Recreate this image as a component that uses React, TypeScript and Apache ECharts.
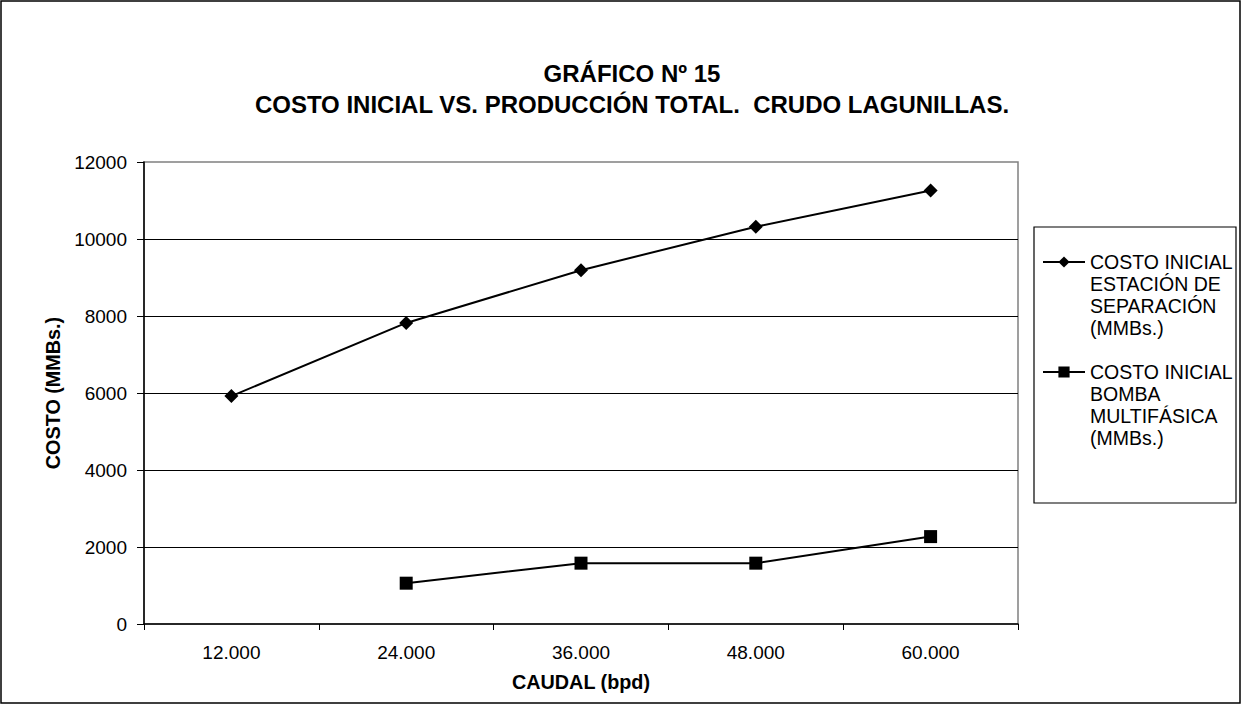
import React, { useEffect, useRef } from "react";
import * as echarts from "echarts";

const categories = ["12.000", "24.000", "36.000", "48.000", "60.000"];
const estacionValues: (number | null)[] = [5920, 7820, 9190, 10320, 11260];
const bombaValues: (number | null)[] = [null, 1060, 1580, 1580, 2270];
const seriesNames = [
  "COSTO INICIAL\nESTACIÓN DE\nSEPARACIÓN\n(MMBs.)",
  "COSTO INICIAL\nBOMBA\nMULTIFÁSICA\n(MMBs.)",
];
const titleText = "GRÁFICO Nº 15\nCOSTO INICIAL VS. PRODUCCIÓN TOTAL.  CRUDO LAGUNILLAS.";
const xName = "CAUDAL (bpd)";
const yName = "COSTO (MMBs.)";

const FONT = "'Liberation Sans', Arial, sans-serif";

export default function App() {
  const ref = useRef<HTMLDivElement>(null);
  useEffect(() => {
    if (!ref.current) return;
    const chart = echarts.init(ref.current, undefined, { renderer: "svg" });
    const legendText = {
      fontFamily: FONT,
      fontSize: 19.5,
      color: "#000",
      lineHeight: 22,
    };
    const legendBase = {
      orient: "vertical",
      left: 1042,
      padding: 0,
      itemWidth: 42,
      itemHeight: 14,
      itemGap: 0,
      textStyle: legendText,
      // blank leading lines keep the first text line level with the icon
      formatter: (name: string) => "\n\n\n" + name,
    };
    const nameStyle = { fontFamily: FONT, fontSize: 19.8, fontWeight: "bold", color: "#000" };
    chart.setOption({
      animation: false,
      backgroundColor: "#fff",
      textStyle: { fontFamily: FONT },
      title: {
        text: titleText,
        left: 632,
        textAlign: "center",
        top: 58,
        padding: 0,
        textStyle: {
          fontFamily: FONT,
          fontSize: 24,
          fontWeight: "bold",
          color: "#000",
          lineHeight: 31,
        },
      },
      legend: [
        { ...legendBase, data: [seriesNames[0]], top: 185 },
        { ...legendBase, data: [seriesNames[1]], top: 295 },
      ],
      grid: {
        left: 144,
        right: 224,
        top: 162,
        bottom: 80,
        show: true,
        borderColor: "#808080",
        borderWidth: 1.5,
        backgroundColor: "transparent",
      },
      xAxis: {
        type: "category",
        data: categories,
        boundaryGap: true,
        name: xName,
        nameLocation: "middle",
        nameGap: 48,
        nameTextStyle: nameStyle,
        axisLine: { lineStyle: { color: "#000", width: 1.5 } },
        axisTick: { show: true, length: 6, lineStyle: { color: "#000" } },
        axisLabel: { fontFamily: FONT, fontSize: 19, color: "#000", margin: 19 },
        splitLine: { show: false },
      },
      yAxis: {
        type: "value",
        min: 0,
        max: 12000,
        interval: 2000,
        name: yName,
        nameLocation: "middle",
        nameGap: 80,
        nameTextStyle: nameStyle,
        axisLine: { show: true, lineStyle: { color: "#000", width: 1.5 } },
        axisTick: { show: true, length: 7, lineStyle: { color: "#000" } },
        axisLabel: {
          fontFamily: FONT,
          fontSize: 19,
          color: "#000",
          margin: 17,
          formatter: (v: number) => String(v),
        },
        splitLine: {
          show: true,
          showMinLine: false,
          showMaxLine: false,
          lineStyle: { color: "#000", width: 1 },
        },
      },
      series: [
        {
          name: seriesNames[0],
          type: "line",
          data: estacionValues,
          symbol: "diamond",
          symbolSize: 14,
          itemStyle: { color: "#000" },
          lineStyle: { color: "#000", width: 2 },
        },
        {
          name: seriesNames[1],
          type: "line",
          data: bombaValues,
          symbol: "rect",
          symbolSize: 13,
          itemStyle: { color: "#000" },
          lineStyle: { color: "#000", width: 2 },
        },
      ],
      graphic: [
        {
          type: "rect",
          shape: { x: 1, y: 1, width: 1239, height: 702 },
          style: { fill: "none", stroke: "#000", lineWidth: 1.5 },
          silent: true,
        },
        {
          type: "rect",
          shape: { x: 1034, y: 227, width: 202, height: 276 },
          style: { fill: "none", stroke: "#000", lineWidth: 1.2 },
          silent: true,
        },
      ],
    });
    return () => chart.dispose();
  }, []);
  return (
    <div
      ref={ref}
      style={{ position: "fixed", left: 0, top: 0, width: 1242, height: 704 }}
    />
  );
}
